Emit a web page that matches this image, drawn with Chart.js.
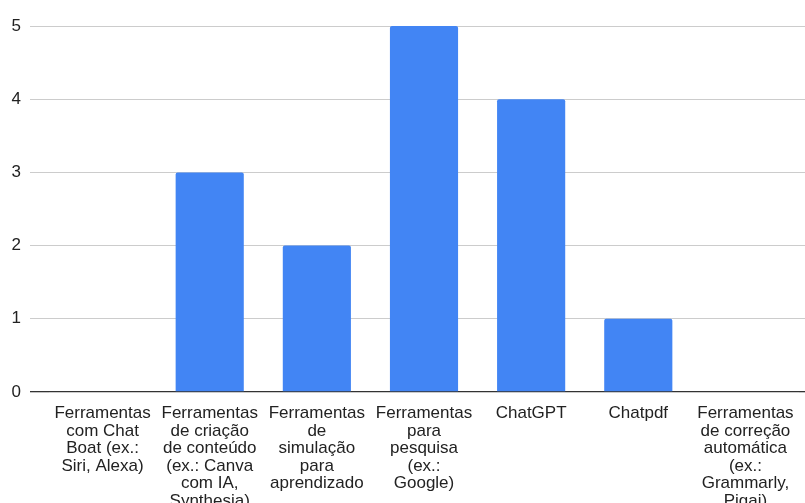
<!DOCTYPE html>
<html>
<head>
<meta charset="utf-8">
<script src="https://cdn.jsdelivr.net/npm/chart.js@4/dist/chart.umd.min.js"></script>
<style>
html,body{margin:0;padding:0;background:#fff;}
#wrap{width:805px;height:503px;}
</style>
</head>
<body>
<div id="wrap"><canvas id="c" width="805" height="503"></canvas></div>
<script>
const categories = [
  ["Ferramentas","com Chat","Boat (ex.:","Siri, Alexa)"],
  ["Ferramentas","de criação","de conteúdo","(ex.: Canva","com IA,","Synthesia)"],
  ["Ferramentas","de","simulação","para","aprendizado"],
  ["Ferramentas","para","pesquisa","(ex.:","Google)"],
  "ChatGPT",
  "Chatpdf",
  ["Ferramentas","de correção","automática","(ex.:","Grammarly,","Pigai)"]
];
const values = [0, 3, 2, 5, 4, 1, 0];
const yTicks = [0, 1, 2, 3, 4, 5];

const FONT = "'Liberation Sans', Arial, sans-serif";
const gridColor = (ctx) => ctx.tick && ctx.tick.value === 0 ? '#333' : '#ccc';
const gridWidth = (ctx) => ctx.tick && ctx.tick.value === 0 ? 1.3 : 1;
new Chart(document.getElementById('c'), {
  type: 'bar',
  data: {
    labels: categories,
    datasets: [{
      data: values,
      backgroundColor: '#4285F4',
      borderRadius: {topLeft: 2, topRight: 2},
      borderSkipped: 'bottom',
      categoryPercentage: 1.0,
      barPercentage: 0.636
    }]
  },
  options: {
    responsive: false,
    animation: false,
    layout: {padding: {top: 26, right: 0, left: 0, bottom: 0}},
    plugins: {legend: {display: false}, tooltip: {enabled: false}},
    scales: {
      x: {
        grid: {display: false},
        border: {display: false},
        ticks: {
          color: '#222',
          font: {family: FONT, size: 17, lineHeight: 1.03},
          padding: 5,
          maxRotation: 0,
          autoSkip: false
        },
        afterFit: (s) => { s.height = 111; }
      },
      y: {
        min: 0, max: 5,
        afterBuildTicks: (s) => { s.ticks = yTicks.map(v => ({value: v})); },
        grid: {color: gridColor, lineWidth: gridWidth, tickLength: 19, drawTicks: true},
        border: {display: false},
        ticks: {color: '#222', font: {family: FONT, size: 17}, padding: 9},
        afterFit: (s) => { s.width = 49; }
      },
      y2: {
        position: 'right',
        min: 0, max: 5,
        afterBuildTicks: (s) => { s.ticks = yTicks.map(v => ({value: v})); },
        grid: {color: gridColor, lineWidth: gridWidth, tickLength: 6, drawTicks: true, drawOnChartArea: false},
        border: {display: false},
        ticks: {display: false, padding: 0},
        afterFit: (s) => { s.width = 6; }
      }
    }
  }
});
</script>
</body>
</html>
